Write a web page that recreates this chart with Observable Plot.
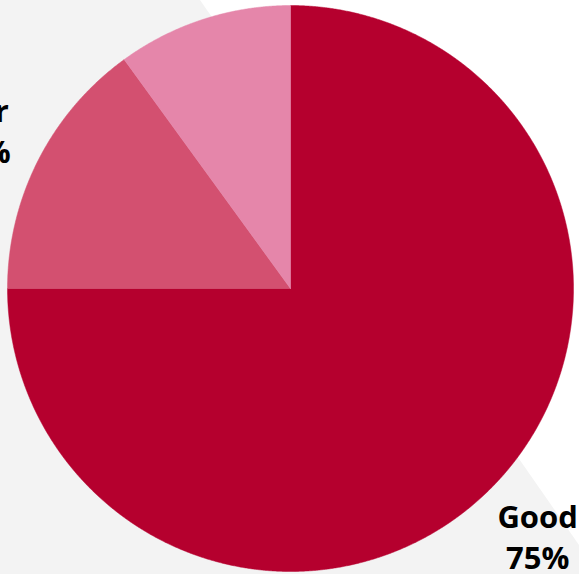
<!DOCTYPE html>
<html><head><meta charset="utf-8">
<script src="https://cdn.jsdelivr.net/npm/d3@7"></script>
<script src="https://cdn.jsdelivr.net/npm/@observablehq/plot@0.6"></script>
<style>
html,body{margin:0;padding:0;background:#f3f3f3;overflow:hidden}
#wrap{position:relative;width:579px;height:574px;background:#f3f3f3;overflow:hidden}
#tri{position:absolute;left:0;top:0;width:579px;height:574px;background:#fff;clip-path:polygon(200px 0,579px 0,579px 545px)}
#chart{position:absolute;left:0;top:0}
</style></head><body>
<div id="wrap"><div id="tri"></div><div id="chart"></div></div>
<script>
const categories = ["Good", "Fair", "Poor"];
const values = [75, 15, 10];
const colors = ["#b5002e", "#d35070", "#e586aa"];

const arcs = d3.pie().sort(null).value(d => d)(values);
const pts = [];
arcs.forEach((p, i) => {
  const n = Math.max(2, Math.ceil((p.endAngle - p.startAngle) / 0.004));
  pts.push({cat: categories[i], x: 0, y: 0});
  for (let k = 0; k <= n; k++) {
    const a = p.startAngle + (p.endAngle - p.startAngle) * k / n;
    pts.push({cat: categories[i], x: Math.sin(a), y: Math.cos(a)});
  }
  pts.push({cat: categories[i], x: 0, y: 0});
});
const labels = arcs.map((p, i) => {
  const a = (p.startAngle + p.endAngle) / 2, r = 1.235;
  return {cat: categories[i], x: r * Math.sin(a), y: r * Math.cos(a), text: categories[i] + "\n" + values[i] + "%"};
});

const chart = Plot.plot({
  width: 579, height: 574, margin: 0,
  x: {domain: [-290 / 283, 289 / 283], axis: null},
  y: {domain: [-286 / 283, 288 / 283], axis: null},
  color: {domain: categories, range: colors},
  style: {background: "transparent", overflow: "visible"},
  marks: [
    Plot.line(pts, {x: "x", y: "y", z: "cat", fill: "cat", stroke: "cat", strokeWidth: 0.5, curve: "linear"}),
    Plot.text(labels, {x: "x", y: "y", text: "text", fontSize: 31, fontWeight: 700, fontFamily: "Open Sans", lineHeight: 1.32, fill: "#000"})
  ]
});
document.getElementById("chart").appendChild(chart);
</script>
</body></html>
